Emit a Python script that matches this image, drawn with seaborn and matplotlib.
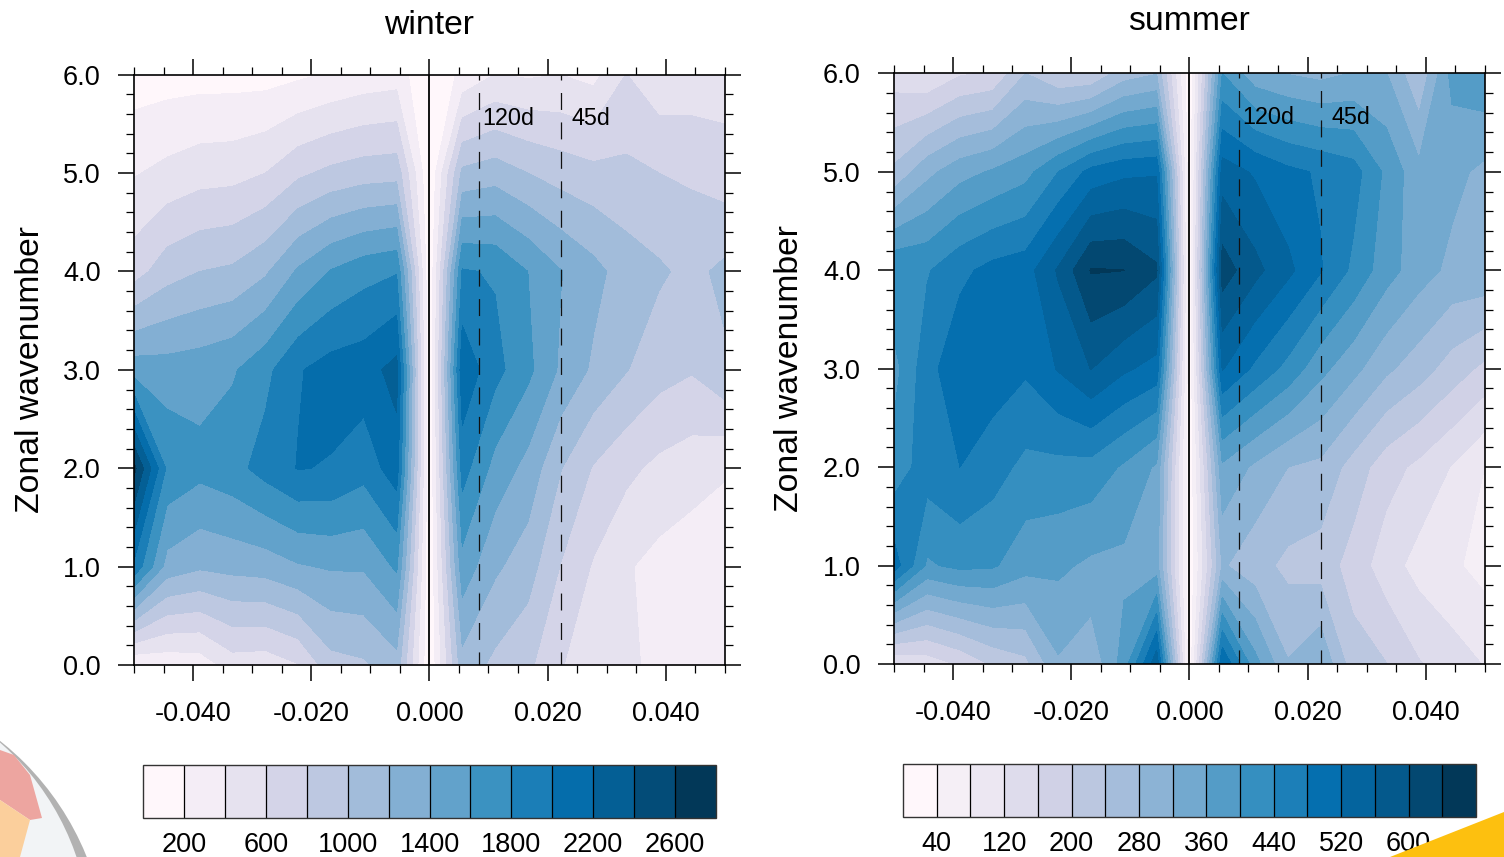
import numpy as np
import matplotlib
matplotlib.use("Agg")
import matplotlib.pyplot as plt
import matplotlib as mpl
from matplotlib.patches import Ellipse, Polygon
from matplotlib.ticker import MultipleLocator
from matplotlib.colors import ListedColormap, BoundaryNorm
import seaborn as sns

sns.set_theme(style="ticks")
plt.rcParams["font.family"] = ["Liberation Sans", "DejaVu Sans"]
plt.rcParams["lines.scale_dashes"] = False

# ---------------- data ----------------
frequency = np.arange(-9, 10) / 180.0
wavenumber = [0, 1, 2, 3, 4, 5, 6]

winter_y0 = [210, 255, 280, 500, 480, 590, 924, 970, 1120, 10, 1124, 950, 845, 610, 515, 435, 355, 330, 320]
winter_y1 = [1950, 1324, 1230, 1265, 1290, 1380, 1421, 1422, 1632, 10, 1525, 1236, 1090, 792, 580, 420, 335, 279, 270]
winter_y2 = [2650, 1765, 1664, 1730, 1880, 2010, 1985, 1875, 2110, 10, 1886, 1528, 1333, 1010, 784, 650, 548, 489, 420]
winter_y3 = [1510, 1490, 1513, 1575, 1743, 1982, 2085, 2115, 2270, 10, 2150, 1866, 1650, 1368, 1164, 1010, 878, 816, 965]
winter_y4 = [712, 913, 1000, 1036, 1170, 1430, 1614, 1728, 1785, 10, 1820, 1780, 1600, 1410, 1265, 1104, 1030, 944, 1050]
winter_y5 = [385, 455, 517, 532, 600, 760, 850, 904, 923, 10, 1047, 1108, 1000, 915, 860, 847, 800, 770, 690]
winter_y6 = [96, 112, 121, 120, 122, 165, 220, 274, 305, 10, 250, 405, 375, 400, 340, 605, 457, 478, 510]

summer_y0 = [122, 136, 165, 205, 228, 315, 289, 378, 550, 5, 520, 375, 283, 316, 217, 201, 163, 139, 118]
summer_y1 = [500, 394, 410, 405, 375, 368, 352, 350, 338, 5, 285, 255, 230, 222, 183, 138, 105, 87, 66]
summer_y2 = [417, 460, 480, 457, 429, 428, 426, 394, 354, 5, 352, 312, 280, 270, 223, 177, 150, 118, 80]
summer_y3 = [386, 465, 510, 502, 486, 523, 561, 527, 505, 5, 523, 472, 427, 372, 332, 288, 258, 222, 190]
summer_y4 = [438, 436, 470, 493, 503, 565, 643, 640.5, 607, 5, 621, 572, 530, 483, 431, 377, 338, 310, 311]
summer_y5 = [249, 308, 345, 365, 386, 440, 493, 511, 516, 5, 540, 515, 490, 475, 457, 391, 332, 332, 310]
summer_y6 = [138, 122, 155, 165, 240, 203, 206, 260, 278, 5, 400, 335, 318, 308, 322, 322, 245, 373, 392]

winter_levels = list(range(200, 2601, 200))
summer_levels = list(range(40, 641, 40))
winter_tick_labels = [200, 600, 1000, 1400, 1800, 2200, 2600]
summer_tick_labels = [40, 120, 200, 280, 360, 440, 520, 600]
x_major = [-0.04, -0.02, 0.0, 0.02, 0.04]
x_labels = ["-0.040", "-0.020", "0.000", "0.020", "0.040"]
y_major = [0, 1, 2, 3, 4, 5, 6]
y_labels = ["0.0", "1.0", "2.0", "3.0", "4.0", "5.0", "6.0"]
period_lines = [("120d", 1 / 120.0, 0.0089), ("45d", 1 / 45.0, 0.0240)]

winter = np.array([winter_y0, winter_y1, winter_y2, winter_y3, winter_y4, winter_y5, winter_y6], float)
summer = np.array([summer_y0, summer_y1, summer_y2, summer_y3, summer_y4, summer_y5, summer_y6], float)

W, H = 1504, 857
fig = plt.figure(figsize=(W / 100, H / 100), dpi=100)
fig.patch.set_facecolor("white")
pubu = sns.color_palette("PuBu", as_cmap=True)


def box(l, t, r, b):
    return [l / W, 1 - b / H, (r - l) / W, (b - t) / H]


def px(pts):
    return [(x / W, 1 - y / H) for x, y in pts]


def panel(rect, cbar_rect, data, levels, tick_labels, title, title_y, ylabel_x):
    colors = pubu(np.linspace(0, 1, len(levels) + 1))
    ax = fig.add_axes(box(*rect))
    ax.contourf(frequency, wavenumber, data, levels=levels, colors=colors, extend="both")
    ax.set_xlim(-0.05, 0.05)
    ax.set_ylim(0, 6)

    ax.axvline(0, color="black", lw=1.3)
    for name, xpos, xtext in period_lines:
        ax.plot([xpos, xpos], [6, 0], color="#111111", lw=0.9,
                linestyle=(8.6, (12.2, 9.0)), dash_capstyle="butt")
        ax.text(xtext, 5.555, name, fontsize=16.8, ha="left", va="center", color="black")

    ax.set_xticks(x_major)
    ax.set_xticklabels(x_labels)
    ax.set_yticks(y_major)
    ax.set_yticklabels(y_labels)
    ax.xaxis.set_minor_locator(MultipleLocator(0.005))
    ax.yaxis.set_minor_locator(MultipleLocator(0.2))
    ax.tick_params(which="major", direction="out", length=11.8, width=1.1, labelsize=19.5,
                   top=True, right=True, bottom=True, left=True, color="black", labelcolor="black")
    ax.tick_params(which="minor", direction="out", length=5.8, width=0.9,
                   top=True, right=True, bottom=True, left=True, color="black")
    ax.tick_params(axis="x", which="major", pad=14.4)
    ax.tick_params(axis="y", which="major", pad=12.5)
    for s in ax.spines.values():
        s.set_linewidth(1.2)
        s.set_color("black")

    fig.text(ylabel_x / W, 1 - (rect[1] + rect[3]) / 2 / H, "Zonal wavenumber", rotation=90,
             fontsize=24.3, ha="center", va="center", color="black")
    fig.text((rect[0] + rect[2]) / 2 / W, 1 - title_y / H, title, fontsize=24.3,
             ha="center", va="center", color="black")

    cax = fig.add_axes(box(*cbar_rect))
    cmap = ListedColormap(colors[1:-1])
    cmap.set_under(colors[0])
    cmap.set_over(colors[-1])
    cb = mpl.colorbar.ColorbarBase(cax, cmap=cmap, norm=BoundaryNorm(levels, len(levels) - 1),
                                   orientation="horizontal", extend="both", extendrect=True,
                                   extendfrac=1 / (len(levels) - 1), spacing="uniform",
                                   drawedges=True, ticks=tick_labels)
    cb.ax.minorticks_off()
    cb.ax.set_xticklabels([str(v) for v in tick_labels])
    cb.ax.tick_params(axis="x", length=0, pad=10.2, labelsize=19.5, labelcolor="black")
    cb.dividers.set_color("black")
    cb.dividers.set_linewidth(0.9)
    cb.outline.set_edgecolor("#333333")
    cb.outline.set_linewidth(1.0)


panel((134.3, 74.7, 724.6, 665.0), (143, 765, 716, 818), winter, winter_levels,
      winter_tick_labels, "winter", 25, 30.5)
panel((894.3, 73.4, 1484.6, 664.0), (903, 763.5, 1476, 817), summer, summer_levels,
      summer_tick_labels, "summer", 21, 789.5)

# decorative overlays in the page corners
cx, cy = -175.7, 962.7
fig.add_artist(Ellipse((cx / W, 1 - cy / H), 2 * 283 / W, 2 * 283 / H,
                       facecolor="#b2b2b2", edgecolor="none", zorder=10))
fig.add_artist(Ellipse((cx / W, 1 - (cy - 20) / H), 2 * 266.4 / W, 2 * 266.4 / H,
                       facecolor="#f2f4f6", edgecolor="none", zorder=10))
fig.add_artist(Polygon(px([(0, 750), (14, 755), (30, 775), (42, 818), (30, 820), (0, 800)]),
                       closed=True, facecolor="#eda5a0", edgecolor="none", zorder=11,
                       transform=fig.transFigure))
fig.add_artist(Polygon(px([(0, 800), (30, 820), (20, 857), (0, 857)]),
                       closed=True, facecolor="#fbcf9c", edgecolor="none", zorder=11,
                       transform=fig.transFigure))
fig.add_artist(Polygon(px([(1390, 857), (1504, 812), (1504, 857)]),
                       closed=True, facecolor="#fdc00f", edgecolor="none", zorder=11,
                       transform=fig.transFigure))

fig.savefig("out.png", dpi=100, facecolor="white")
